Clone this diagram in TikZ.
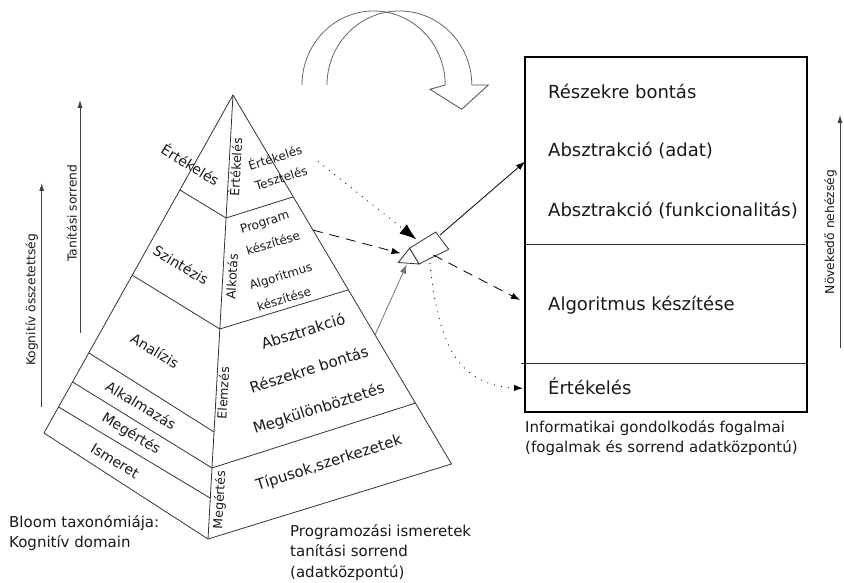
\documentclass[tikz,border=0pt]{standalone}
\usepackage{fontspec}
\setmainfont{DejaVu Sans}
\usetikzlibrary{calc,arrows.meta}
\begin{document}
\begin{tikzpicture}[x=1pt,y=-1pt,
  ln/.style={line width=0.8pt, draw=black!80},
  lface/.style={font=\fontsize{14}{16}\selectfont, rotate=-31.2, inner sep=0pt, text=black!90},
  rbig/.style={font=\fontsize{15}{18}\selectfont, rotate=17.6, inner sep=0pt, text=black!90},
  rsmall/.style={font=\fontsize{12}{14}\selectfont, rotate=17.6, inner sep=0pt, text=black!90},
  cvert/.style={font=\fontsize{12.5}{15}\selectfont, rotate=86.8, inner sep=0pt, text=black!90},
  boxtxt/.style={font=\fontsize{18}{21}\selectfont, anchor=base west, inner sep=0pt, text=black!90},
  captxt/.style={font=\fontsize{15}{20}\selectfont, anchor=base west, inner sep=0pt, text=black!90},
  axlabel/.style={font=\fontsize{12.3}{14}\selectfont, rotate=90, inner sep=0pt, text=black!90},
  axarrow/.style={line width=0.8pt, draw=black!75, -{Latex[length=8pt,width=5pt]}},
  smallhead/.style={-{Latex[length=9pt,width=6.5pt]}},
  dotline/.style={line width=1.2pt, dash pattern=on 0pt off 7pt, line cap=round},
  dashline/.style={line width=0.8pt, dash pattern=on 10pt off 7pt},
]
\useasboundingbox (0,0) rectangle (844,583);

% ---------- curved hollow arrow on top ----------
\coordinate (ca1) at (302,85);
\coordinate (ca2) at (327,85);
\draw[line width=0.8pt, draw=black!60] (ca1) arc[start angle=180, end angle=0, x radius=71.6pt, y radius=74pt] coordinate (ca3);
\draw[line width=0.8pt, draw=black!60] (ca2) arc[start angle=180, end angle=0, x radius=72.4pt, y radius=74pt] coordinate (ca4);
\coordinate (cw1) at (430,89.3);
\coordinate (ctip) at (461.7,109.3);
\coordinate (cw2) at (488.3,85);
\draw[line width=0.8pt, draw=black!70, line join=miter] (ca3) -- (cw1) -- (ctip) -- (cw2) -- (ca4);

% ---------- pyramid ----------
\coordinate (apex) at (233,95);
\coordinate (bl) at (44,433);
\coordinate (bf) at (208,539);
\coordinate (br) at (451.5,464);
\foreach \n/\t in {1/0.281,2/0.533,3/0.763,4/0.849,5/0.923}
  \coordinate (L\n) at ($(apex)!\t!(bl)$);
\foreach \n/\t in {1/0.277,2/0.527,3/0.759,4/0.840,5/0.908}
  \coordinate (C\n) at ($(apex)!\t!(bf)$);
\foreach \n/\t in {1/0.276,2/0.528,4/0.835}
  \coordinate (R\n) at ($(apex)!\t!(br)$);
\draw[ln, line join=miter] (apex) -- (bl) -- (bf) -- (br) -- cycle;
\draw[ln] (apex) -- (bf);
\foreach \n in {1,...,5} \draw[ln] (L\n) -- (C\n);
\foreach \n in {1,2,4} \draw[ln] (C\n) -- (R\n);

% left face labels
\node[lface] (lErt) at (190.8,164.2) {Értékelés};
\node[lface] (lSzin) at (181,265) {Szintézis};
\node[lface] (lAnal) at (155,351) {Analízis};
\node[lface] (lAlk) at (141,405) {Alkalmazás};
\node[lface] (lMeg) at (131,434) {Megértés};
\node[lface] (lIsm) at (115,461) {Ismeret};

% central edge labels
\node[cvert] (cErt) at (235,167) {Értékelés};
\node[cvert] (cAlk) at (231.7,276.7) {Alkotás};
\node[cvert] (cElem) at (223,393) {Elemzés};
\node[cvert] (cMeg) at (220,500) {Megértés};

% right face labels
\node[rsmall] (rErt) at (275,157) {Értékelés};
\node[rsmall] (rTeszt) at (281,178) {Tesztelés};
\node[rsmall] (rProg) at (265,223) {Program};
\node[rsmall] (rKesz1) at (273,243) {készítése};
\node[rsmall] (rAlg) at (281,277) {Algoritmus};
\node[rsmall] (rKesz2) at (284,299) {készítése};
\node[rbig] (rAbsz) at (303,331) {Absztrakció};
\node[rbig] (rResz) at (309,369) {Részekre bontás};
\node[rbig] (rMegk) at (319,409) {Megkülönböztetés};
\node[rbig] (rTip) at (329,463) {Típusok,szerkezetek};

% ---------- left axes ----------
\coordinate (k0) at (41.7,407);
\coordinate (k1) at (41.7,183);
\draw[axarrow] (k0) -- (k1);
\node[axlabel] (kLab) at (31.7,300) {Kognitív összetettség};
\coordinate (t0) at (80,333);
\coordinate (t1) at (80,100);
\draw[axarrow] (t0) -- (t1);
\node[axlabel] (tLab) at (71.7,213) {Tanítási sorrend};

% ---------- right box ----------
\coordinate (bxNW) at (525,57);
\coordinate (bxSE) at (807,412);
\draw[line width=2pt, line join=miter] (bxNW) rectangle (bxSE);
\draw[ln] (525,244) -- (807,244);
\draw[ln] (521,363.3) -- (807,363.3);
\node[boxtxt] (b1) at (548,99) {Részekre bontás};
\node[boxtxt] (b2) at (548,156.5) {Absztrakció (adat)};
\node[boxtxt] (b3) at (548,217) {Absztrakció (funkcionalitás)};
\node[boxtxt] (b4) at (548,310.5) {Algoritmus készítése};
\node[boxtxt] (b5) at (548,394) {Értékelés};

\coordinate (n0) at (840,348);
\coordinate (n1) at (840,115);
\draw[axarrow] (n0) -- (n1);
\node[axlabel] (nLab) at (830.5,232) {Növekedő nehézség};

% ---------- captions ----------
\node[captxt] (capI1) at (525,432) {Informatikai gondolkodás fogalmai};
\node[captxt] (capI2) at (525,452.5) {(fogalmak és sorrend adatközpontú)};
\node[captxt] (capB1) at (9,527.5) {Bloom taxonómiája:};
\node[captxt] (capB2) at (9,547.5) {Kognitív domain};
\node[captxt] (capP1) at (290,536) {Programozási ismeretek};
\node[captxt] (capP2) at (290,556.5) {tanítási sorrend};
\node[captxt] (capP3) at (290,577) {(adatközpontú)};

% ---------- prism ----------
\coordinate (P1) at (398.3,262.5);
\coordinate (P2) at (409.5,248.3);
\coordinate (P3) at (419,264);
\coordinate (P4) at (435.7,232);
\coordinate (P5) at (448.7,249.3);
\draw[ln, fill=white, line join=miter] (P2) -- (P4) -- (P5) -- (P3) -- cycle;
\draw[ln, fill=white, line join=miter] (P1) -- (P2) -- (P3) -- cycle;

% ---------- connectors ----------
\coordinate (e1) at ($(apex)!0.650!(br)$);
\coordinate (a1end) at (406.7,264.5);
\draw[line width=0.8pt, draw=black!55, smallhead] (e1) -- (a1end);

\coordinate (d0) at (318.3,161.7);
\coordinate (d1) at (416.5,239.5);
\draw[dotline, -{Latex[length=17pt,width=12pt]}] (d0) -- (d1);

\coordinate (e3) at ($(apex)!0.366!(br)$);
\coordinate (a3end) at (400.5,253.3);
\draw[dashline, smallhead] (e3) -- (a3end);

\coordinate (a4s) at (440,235);
\coordinate (in1) at (525,161.7);
\draw[line width=0.8pt, smallhead] (a4s) -- (in1);

\coordinate (a5s) at (433.3,255);
\coordinate (in2) at (520,300);
\draw[dashline, smallhead] (a5s) -- (in2);

\coordinate (a6s) at (430,263.5);
\coordinate (in3) at (523,388.3);
\draw[dotline, -{Latex[length=9pt,width=6.5pt]}] (a6s) .. controls (438,340) and (455,385) .. (in3);
\end{tikzpicture}
\end{document}
